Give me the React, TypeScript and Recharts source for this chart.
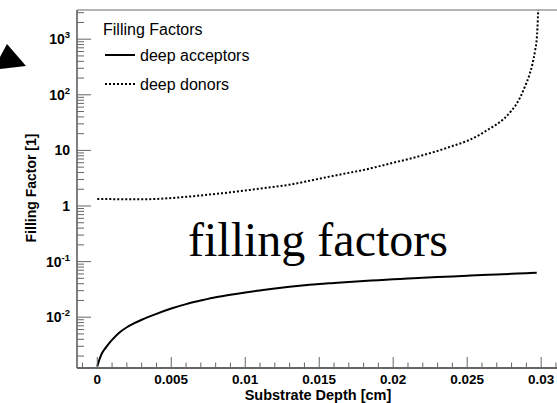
import { LineChart, Line, XAxis, YAxis, ReferenceLine } from "recharts";

// deep acceptors (solid)
const acceptorDepth = [
  0, 0.0001, 0.0003, 0.0006, 0.001, 0.0015, 0.002, 0.0025, 0.003, 0.004, 0.005, 0.006, 0.007, 0.008, 0.009,
  0.01, 0.011, 0.012, 0.013, 0.014, 0.015, 0.016, 0.017, 0.018, 0.019, 0.02, 0.021, 0.022, 0.023, 0.024,
  0.025, 0.026, 0.027, 0.028, 0.029, 0.0297,
];
const acceptorFactor = [
  0.0013, 0.0016, 0.0022, 0.0029, 0.0039, 0.0053, 0.0066, 0.0078, 0.009, 0.0115, 0.0143, 0.0172, 0.0199,
  0.0228, 0.0254, 0.0279, 0.0303, 0.0328, 0.0352, 0.0374, 0.0395, 0.0412, 0.043, 0.0447, 0.0463, 0.0479,
  0.0495, 0.0512, 0.0527, 0.0542, 0.0557, 0.0572, 0.0588, 0.0603, 0.0618, 0.063,
];

// deep donors (dotted)
const donorDepth = [
  0, 0.001, 0.002, 0.003, 0.004, 0.005, 0.006, 0.007, 0.008, 0.009, 0.01, 0.011, 0.012, 0.013, 0.014,
  0.015, 0.016, 0.017, 0.018, 0.019, 0.02, 0.021, 0.022, 0.023, 0.024, 0.025, 0.026, 0.0265, 0.027, 0.0275,
  0.028, 0.0283, 0.0286, 0.0289, 0.0292, 0.0294, 0.0296, 0.0297, 0.02975, 0.0298,
];
const donorFactor = [
  1.34, 1.33, 1.32, 1.32, 1.34, 1.39, 1.46, 1.55, 1.65, 1.76, 1.9, 2.05, 2.22, 2.42, 2.72, 3.1, 3.5, 3.95,
  4.45, 5.15, 6.0, 6.95, 8.2, 9.8, 12.0, 14.8, 20.2, 24.5, 29.5, 37.5, 52, 66, 92, 140, 225, 350, 650, 1000,
  1600, 3400,
];

const seriesNames = ["deep acceptors", "deep donors"];
const legendTitle = "Filling Factors";
const xTitle = "Substrate Depth [cm]";
const yTitle = "Filling Factor [1]";
const overlayText = "filling factors";

const xDomain = [-0.00137, 0.03107];
const yDomain = [0.00122, 3350];

const xMajorTicks = [0, 0.005, 0.01, 0.015, 0.02, 0.025, 0.03];
const xMajorLabels = ["0", "0.005", "0.01", "0.015", "0.02", "0.025", "0.03"];
const xMinorTicks = Array.from({ length: 33 }, (_, i) => Number((-0.001 + i * 0.001).toFixed(4)));

const yMajorTicks = [0.01, 0.1, 1, 10, 100, 1000];
const yMajorBase = ["10", "10", "1", "10", "10", "10"];
const yMajorExp = ["-2", "-1", "", "", "2", "3"];
const yMinorTicks: number[] = [];
for (let k = -3; k <= 3; k++) {
  for (let m = 1; m <= 9; m++) {
    const v = Number((m * Math.pow(10, k)).toPrecision(3));
    if (v >= yDomain[0] && v <= yDomain[1]) yMinorTicks.push(v);
  }
}

const acceptorData = acceptorDepth.map((t, i) => ({ t, f: acceptorFactor[i] }));
const donorData = donorDepth.map((t, i) => ({ t, f: donorFactor[i] }));

const SANS = "'Liberation Sans', Arial, Helvetica, sans-serif";

const XTick = (props: any) => {
  const { x, y, payload } = props;
  const idx = xMajorTicks.findIndex((t) => Math.abs(t - payload.value) < 1e-9);
  const major = idx >= 0;
  return (
    <g>
      <line x1={x} x2={x} y1={y} y2={y - (major ? 11 : 5.5)} stroke="#666" strokeWidth={1} />
      {major && (
        <text x={x} y={y + 15.5} textAnchor="middle" fontFamily={SANS} fontWeight="bold" fontSize={13.5} fill="#000">
          {xMajorLabels[idx]}
        </text>
      )}
    </g>
  );
};

const YTick = (props: any) => {
  const { x, y, payload } = props;
  const idx = yMajorTicks.findIndex((t) => Math.abs(Math.log10(t) - Math.log10(payload.value)) < 1e-6);
  const major = idx >= 0;
  return (
    <g>
      <line x1={x} x2={x + (major ? 14 : 7)} y1={y} y2={y} stroke="#666" strokeWidth={1} />
      {major && (
        <text x={x - 7} y={y + 5} textAnchor="end" fontFamily={SANS} fontWeight="bold" fontSize={14} fill="#000">
          {yMajorBase[idx]}
          {yMajorExp[idx] && (
            <tspan dy={-6} fontSize={9.5}>
              {yMajorExp[idx]}
            </tspan>
          )}
        </text>
      )}
    </g>
  );
};

const App = () => {
  return (
    <div style={{ position: "absolute", left: 0, top: 0, width: 557, height: 403, overflow: "hidden", background: "#fff" }}>
      <LineChart width={557} height={403} margin={{ top: 10, right: 0, bottom: 0, left: 0 }}>
        <XAxis
          dataKey="t"
          type="number"
          domain={xDomain}
          allowDataOverflow
          ticks={xMinorTicks}
          interval={0}
          tick={<XTick />}
          tickSize={0}
          tickMargin={0}
          tickLine={false}
          axisLine={{ stroke: "#333", strokeWidth: 1.5 }}
          height={35}
        />
        <YAxis
          type="number"
          scale="log"
          domain={yDomain}
          allowDataOverflow
          ticks={yMinorTicks}
          interval={0}
          tick={<YTick />}
          tickSize={0}
          tickMargin={0}
          tickLine={false}
          axisLine={{ stroke: "#555", strokeWidth: 1.5 }}
          width={77}
        />
        <ReferenceLine y={yDomain[1]} stroke="#b4b4b4" strokeWidth={2} ifOverflow="visible" />
        <Line
          data={acceptorData}
          dataKey="f"
          name={seriesNames[0]}
          type="monotone"
          stroke="#000"
          strokeWidth={2}
          dot={false}
          isAnimationActive={false}
        />
        <Line
          data={donorData}
          dataKey="f"
          name={seriesNames[1]}
          type="monotone"
          stroke="#000"
          strokeWidth={2}
          strokeDasharray="2 2"
          dot={false}
          isAnimationActive={false}
        />
      </LineChart>
      <svg width={557} height={403} style={{ position: "absolute", left: 0, top: 0, pointerEvents: "none" }}>
        <polygon points="0,57 7,44 26,66 0,69" fill="#000" />
        <text x={103} y={35} fontFamily={SANS} fontSize={16} fill="#000">
          {legendTitle}
        </text>
        <line x1={105} x2={135} y1={55} y2={55} stroke="#000" strokeWidth={2} />
        <text x={140} y={61} fontFamily={SANS} fontSize={16} fill="#000">
          {seriesNames[0]}
        </text>
        <line x1={105} x2={135} y1={84} y2={84} stroke="#000" strokeWidth={2} strokeDasharray="2 2" />
        <text x={140} y={90} fontFamily={SANS} fontSize={16} fill="#000">
          {seriesNames[1]}
        </text>
        <text x={318} y={256} textAnchor="middle" fontFamily="'Liberation Serif', 'Times New Roman', serif" fontSize={48} fill="#000">
          {overlayText}
        </text>
        <text x={318} y={400} textAnchor="middle" fontFamily={SANS} fontWeight="bold" fontSize={14.5} fill="#000">
          {xTitle}
        </text>
        <text
          x={0}
          y={0}
          transform="translate(36,188) rotate(-90)"
          textAnchor="middle"
          fontFamily={SANS}
          fontWeight="bold"
          fontSize={14}
          fill="#000"
        >
          {yTitle}
        </text>
      </svg>
    </div>
  );
};

export default App;
